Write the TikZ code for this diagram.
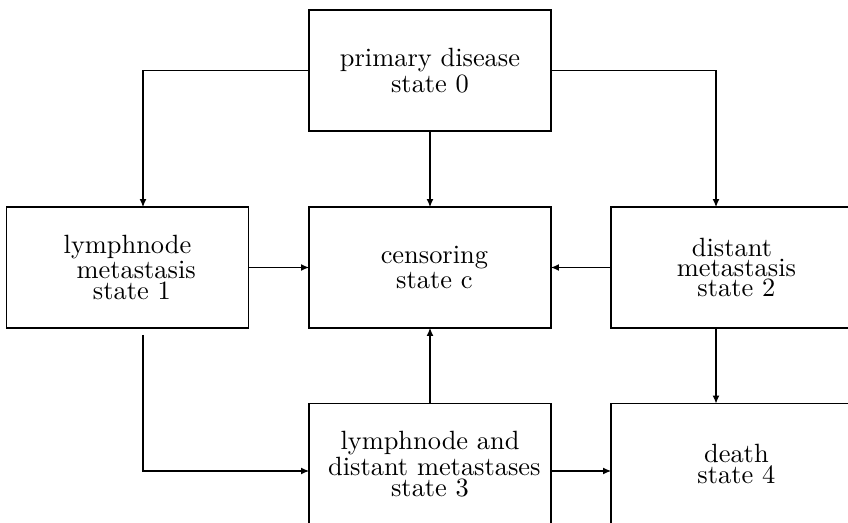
\documentclass[tikz,border=0pt]{standalone}
\usetikzlibrary{arrows.meta}
\begin{document}
\begin{tikzpicture}[x=0.3788pt,y=-0.3788pt,
  statebox/.style={draw,line width=0.4pt,minimum width=91.67pt,minimum height=45.83pt,
    inner sep=0pt,outer sep=0pt,align=center,font=\fontsize{10pt}{1pt}\selectfont},
  arr/.style={line width=0.4pt,-{Latex[length=3pt,width=2.6pt]}}]
\clip (0,0) rectangle (848,523);
\node[statebox] (p0) at (430,70.5) {primary disease\\state 0};
\node[statebox] (s1) at (127.5,267.5) {lymphnode\\\hspace*{6.6pt}metastasis\\\hspace*{3.33pt}state 1};
\node[statebox] (sc) at (430,267.5) {\hspace*{3.33pt}censoring\\\hspace*{3.33pt}state c};
\node[statebox] (s2) at (732,267.5) {distant\\\hspace*{3.33pt}metastasis\\\hspace*{3.33pt}state 2};
\node[statebox] (s3) at (430,464) {lymphnode and\\\hspace*{3.33pt}distant metastases\\state 3};
\node[statebox] (s4) at (732,464) {\hspace*{3.33pt}death\\\hspace*{3.33pt}state 4};
\draw[arr] (p0.west) -| ([xshift=5.87pt]s1.north);
\draw[arr] (p0.east) -| ([xshift=-6.06pt]s2.north);
\draw[arr] (p0.south) -- (sc.north);
\draw[arr] (s1.east) -- (sc.west);
\draw[arr] (s2.west) -- (sc.east);
\draw[arr] (s3.north) -- (sc.south);
\draw[arr] ([xshift=-6.06pt]s2.south) -- ([xshift=-6.06pt]s4.north);
\draw[arr] ([xshift=5.87pt,yshift=-2.65pt]s1.south) |- ([yshift=-2.65pt]s3.west);
\draw[arr] ([yshift=-2.65pt]s3.east) -- ([yshift=-2.65pt]s4.west);
\end{tikzpicture}
\end{document}
